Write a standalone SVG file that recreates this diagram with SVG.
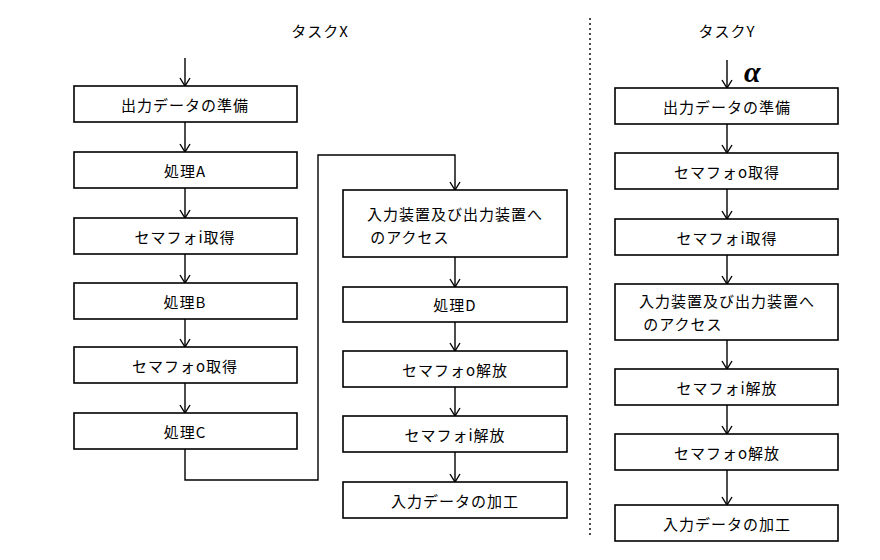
<svg xmlns="http://www.w3.org/2000/svg" width="880" height="560" viewBox="0 0 880 560">
<style>
.b{fill:#fff;stroke:#000;stroke-width:1.6}
.t{font-family:"Noto Sans CJK JP","Liberation Sans",sans-serif;font-size:15px;letter-spacing:1px;text-anchor:middle;dominant-baseline:central;fill:#000}
.c{fill:none;stroke:#000;stroke-width:1.4}
</style>
<defs><marker id="a" markerWidth="12" markerHeight="12" refX="11" refY="6" orient="auto" markerUnits="userSpaceOnUse"><path d="M3,1 L11,6 L3,11" fill="none" stroke="#000" stroke-width="1.4"/></marker></defs>
<text class="t" x="320" y="30">タスクX</text>
<text class="t" x="727" y="30">タスクY</text>
<text x="744" y="82" style="font-family:'Liberation Serif',serif;font-size:30px;font-style:italic;font-weight:bold">α</text>
<line x1="590" y1="18" x2="590" y2="535" stroke="#000" stroke-width="1.4" stroke-dasharray="2,3"/>
<g id="connectors" class="c">
<path d="M185,58V86" marker-end="url(#a)"/>
<path d="M185,122V152" marker-end="url(#a)"/>
<path d="M185,188V218" marker-end="url(#a)"/>
<path d="M185,254V283" marker-end="url(#a)"/>
<path d="M185,319V347" marker-end="url(#a)"/>
<path d="M185,383V413" marker-end="url(#a)"/>
<path d="M185,449V480H318V155H455V190" marker-end="url(#a)"/>
<path d="M455,257V287" marker-end="url(#a)"/>
<path d="M455,322V351" marker-end="url(#a)"/>
<path d="M455,387V416" marker-end="url(#a)"/>
<path d="M455,452V482" marker-end="url(#a)"/>
<path d="M727,60V88" marker-end="url(#a)"/>
<path d="M727,124V153" marker-end="url(#a)"/>
<path d="M727,189V219" marker-end="url(#a)"/>
<path d="M727,255V284" marker-end="url(#a)"/>
<path d="M727,340V369" marker-end="url(#a)"/>
<path d="M727,405V434" marker-end="url(#a)"/>
<path d="M727,470V505" marker-end="url(#a)"/>
</g>
<g id="x1"><rect class="b" x="74" y="86" width="223" height="36"/><text class="t" x="185" y="104">出力データの準備</text></g>
<g id="x2"><rect class="b" x="74" y="152" width="223" height="36"/><text class="t" x="185" y="170">処理A</text></g>
<g id="x3"><rect class="b" x="74" y="218" width="223" height="36"/><text class="t" x="185" y="236">セマフォi取得</text></g>
<g id="x4"><rect class="b" x="74" y="283" width="223" height="36"/><text class="t" x="185" y="301">処理B</text></g>
<g id="x5"><rect class="b" x="74" y="347" width="223" height="36"/><text class="t" x="185" y="365">セマフォo取得</text></g>
<g id="x6"><rect class="b" x="74" y="413" width="223" height="36"/><text class="t" x="185" y="431">処理C</text></g>
<g id="x7"><rect class="b" x="343" y="190" width="224" height="67"/><text class="t" x="455" y="213">入力装置及び出力装置へ</text><text class="t" x="410" y="236">のアクセス</text></g>
<g id="x8"><rect class="b" x="343" y="287" width="224" height="35"/><text class="t" x="455" y="304">処理D</text></g>
<g id="x9"><rect class="b" x="343" y="351" width="224" height="36"/><text class="t" x="455" y="369">セマフォo解放</text></g>
<g id="x10"><rect class="b" x="343" y="416" width="224" height="36"/><text class="t" x="455" y="434">セマフォi解放</text></g>
<g id="x11"><rect class="b" x="343" y="482" width="224" height="36"/><text class="t" x="455" y="500">入力データの加工</text></g>
<g id="y1"><rect class="b" x="615" y="88" width="223" height="36"/><text class="t" x="727" y="106">出力データの準備</text></g>
<g id="y2"><rect class="b" x="615" y="153" width="223" height="36"/><text class="t" x="727" y="171">セマフォo取得</text></g>
<g id="y3"><rect class="b" x="615" y="219" width="223" height="36"/><text class="t" x="727" y="237">セマフォi取得</text></g>
<g id="y4"><rect class="b" x="615" y="284" width="223" height="56"/><text class="t" x="727" y="300">入力装置及び出力装置へ</text><text class="t" x="683" y="323">のアクセス</text></g>
<g id="y5"><rect class="b" x="615" y="369" width="223" height="36"/><text class="t" x="727" y="387">セマフォi解放</text></g>
<g id="y6"><rect class="b" x="615" y="434" width="223" height="36"/><text class="t" x="727" y="452">セマフォo解放</text></g>
<g id="y7"><rect class="b" x="615" y="505" width="223" height="36"/><text class="t" x="727" y="523">入力データの加工</text></g>
</svg>
